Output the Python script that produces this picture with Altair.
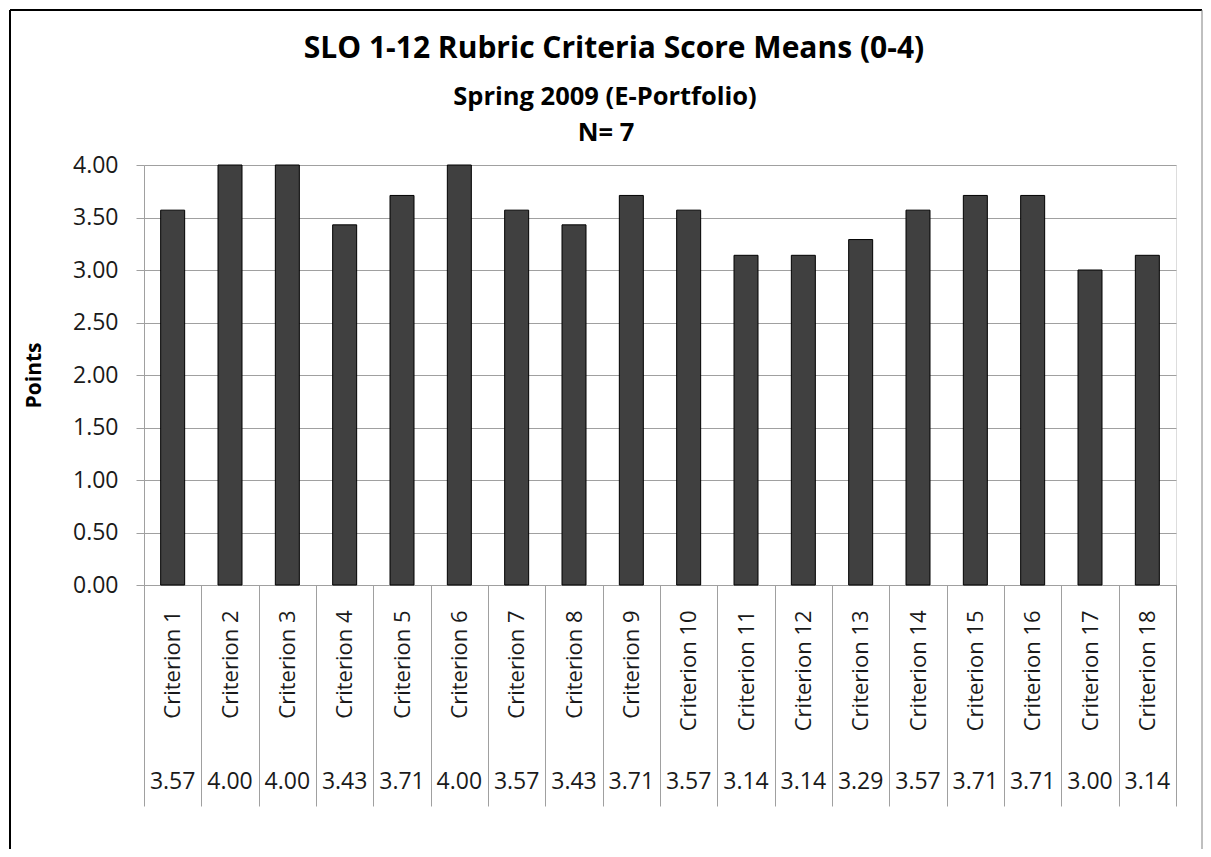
import altair as alt
import pandas as pd

title_lines = ["SLO 1-12 Rubric Criteria Score Means (0-4)", "Spring 2009 (E-Portfolio)", "N= 7"]
categories = [f"Criterion {i}" for i in range(1, 19)]
values = [3.57, 4.00, 4.00, 3.43, 3.71, 4.00, 3.57, 3.43, 3.71, 3.57,
          3.14, 3.14, 3.29, 3.57, 3.71, 3.71, 3.00, 3.14]
y_ticks = [0, 0.5, 1.0, 1.5, 2.0, 2.5, 3.0, 3.5, 4.0]

df = pd.DataFrame({"Criterion": categories, "Points": values})
df["label"] = [f"{v:.2f}" for v in values]

FONT = "Open Sans"
W, H = 1032, 420
GRID = "#a0a0a0"
TXT = "#1a1a1a"

x_enc = alt.X(
    "Criterion:N",
    sort=categories,
    scale=alt.Scale(paddingInner=0, paddingOuter=0),
    axis=alt.Axis(
        title=None,
        labelAngle=-90,
        labelFontSize=22,
        labelFont=FONT,
        labelColor=TXT,
        labelPadding=-196,
        tickBand="extent",
        tickSize=221,
        tickColor=GRID,
        domainColor=GRID,
        grid=False,
        labelOverlap=False,
    ),
)

bars = alt.Chart(df).mark_bar(size=24, color="#404040", stroke="#000000", strokeWidth=1).encode(
    x=x_enc,
    y=alt.Y(
        "Points:Q",
        scale=alt.Scale(domain=[0, 4], nice=False),
        axis=alt.Axis(
            values=y_ticks,
            format=".2f",
            title="Points",
            titleFont=FONT,
            titleFontSize=21,
            titleFontWeight="bold",
            titleColor="#000000",
            titlePadding=28,
            labelFont=FONT,
            labelFontSize=23,
            labelColor=TXT,
            labelPadding=18,
            tickSize=8,
            tickColor=GRID,
            domainColor=GRID,
            gridColor=GRID,
        ),
    ),
)

table_vals = alt.Chart(df).mark_text(font=FONT, fontSize=23, color=TXT, baseline="middle").encode(
    x=alt.X("Criterion:N", sort=categories),
    y=alt.value(H + 197),
    text="label:N",
)

title_df = pd.DataFrame({"t": title_lines})
title_main = alt.Chart(title_df.iloc[[0]]).mark_text(
    font=FONT, fontSize=30, fontWeight="bold", color="#000000", baseline="middle", align="center"
).encode(x=alt.value(470), y=alt.value(-116), text="t:N")
title_sub = alt.Chart(title_df.iloc[[1]]).mark_text(
    font=FONT, fontSize=25.5, fontWeight="bold", color="#000000", baseline="middle", align="center"
).encode(x=alt.value(461), y=alt.value(-68), text="t:N")
title_n = alt.Chart(title_df.iloc[[2]]).mark_text(
    font=FONT, fontSize=25.5, fontWeight="bold", color="#000000", baseline="middle", align="center"
).encode(x=alt.value(462), y=alt.value(-32), text="t:N")

frame_left = alt.Chart(title_df.iloc[[0]]).mark_rule(color="#000000", strokeWidth=2).encode(
    x=alt.value(-134), y=alt.value(-155), y2=alt.value(H + 270)
)
frame_top = alt.Chart(title_df.iloc[[0]]).mark_rule(color="#000000", strokeWidth=2).encode(
    x=alt.value(-134), x2=alt.value(1058), y=alt.value(-155)
)
frame_right = alt.Chart(title_df.iloc[[0]]).mark_rule(color="#808080", strokeWidth=1).encode(
    x=alt.value(1058), y=alt.value(-155), y2=alt.value(H + 270)
)

chart = alt.layer(
    bars, table_vals, title_main, title_sub, title_n, frame_left, frame_top, frame_right
).properties(
    width=W,
    height=H,
    autosize=alt.AutoSizeParams(type="none"),
    padding={"left": 136, "top": 157, "right": 27, "bottom": 264},
).configure_view(stroke=None).configure(background="white")

chart.save("out.html", embed_options={"renderer": "svg", "actions": False})
